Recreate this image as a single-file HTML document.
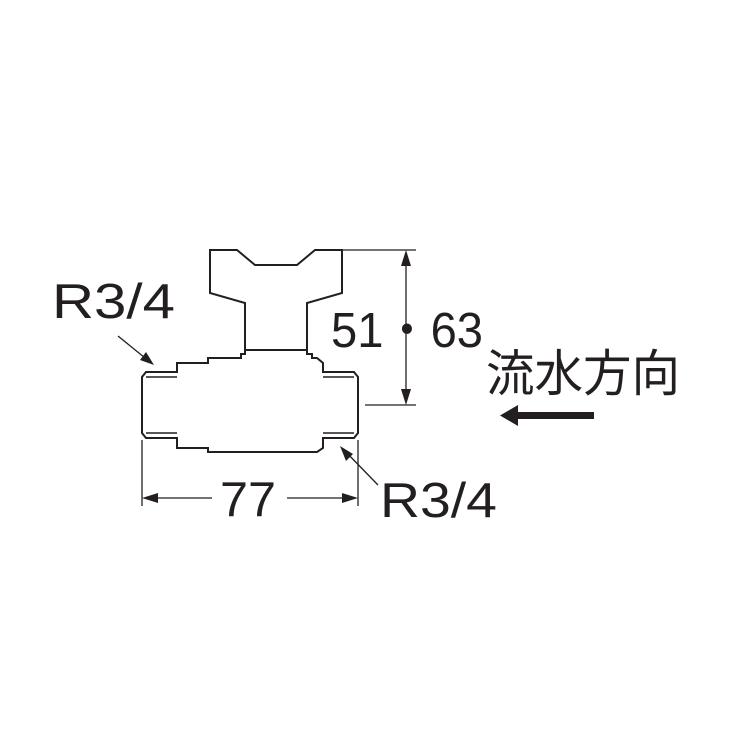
<!DOCTYPE html>
<html><head><meta charset="utf-8"><style>
html,body{margin:0;padding:0;background:#fff;}
svg{display:block;}
text{font-family:"Liberation Sans","Noto Sans CJK JP",sans-serif;fill:#231f20;}
</style></head><body>
<svg width="750" height="750" viewBox="0 0 750 750" xmlns="http://www.w3.org/2000/svg">
<g fill="none" stroke="#231f20" stroke-width="2" stroke-linejoin="miter">
<path d="M245 350 L245 303 L210 293 L210 250 L237 250 L255 265 L297 265 L315 250 L342 250 L342 293 L307 303 L307 350"/>
<path d="M245 350 L245 354 L241 354 L241 358 L208 358 L208 363 L177 363 L177 372 L146 372 L142 377 L142 433 L146 438 L177 438 L177 448 L208 448 L208 452 L317 452 L323 448 L323 438 L354 438 L358 433 L358 377 L354 372 L323 372 L323 363 L317 358 L312 358 L312 354 L307 354 L307 350 Z"/>
<path d="M146 377 L177 377 M146 433 L177 433 M323 377 L354 377 M323 433 L354 433" stroke-width="1.5"/>
</g>
<g stroke="#231f20" stroke-width="1.3" fill="none">
<line x1="343" y1="250" x2="416" y2="250"/>
<line x1="365" y1="405" x2="416" y2="405"/>
<line x1="406" y1="256" x2="406" y2="399"/>
<line x1="142" y1="440" x2="142" y2="506"/>
<line x1="358" y1="440" x2="358" y2="506"/>
<line x1="148" y1="498" x2="212" y2="498"/>
<line x1="287" y1="498" x2="352" y2="498"/>
<line x1="118" y1="336" x2="150" y2="362"/>
<line x1="343" y1="449" x2="378" y2="485"/>
</g>
<g fill="#231f20">
<polygon points="406,250 401,266 411,266"/>
<polygon points="406,405 401,389 411,389"/>
<polygon points="142,498 158,493 158,503"/>
<polygon points="358,498 342,493 342,503"/>
<polygon points="154,365 140,360 146,352"/>
<polygon points="340,446 353,454 346,461"/>
<rect x="514" y="412" width="80" height="7"/>
<polygon points="500,415.5 518,405 518,426"/>
</g>
<text x="52" y="318" font-size="49" textLength="123" lengthAdjust="spacingAndGlyphs">R3/4</text>
<text x="331" y="347" font-size="49" textLength="152" lengthAdjust="spacingAndGlyphs">51・63</text>
<text x="486" y="391" font-size="50" textLength="194" lengthAdjust="spacingAndGlyphs">流水方向</text>
<text x="220" y="516" font-size="49" textLength="56" lengthAdjust="spacingAndGlyphs">77</text>
<text x="380" y="517" font-size="49" textLength="117" lengthAdjust="spacingAndGlyphs">R3/4</text>
</svg>
</body></html>
